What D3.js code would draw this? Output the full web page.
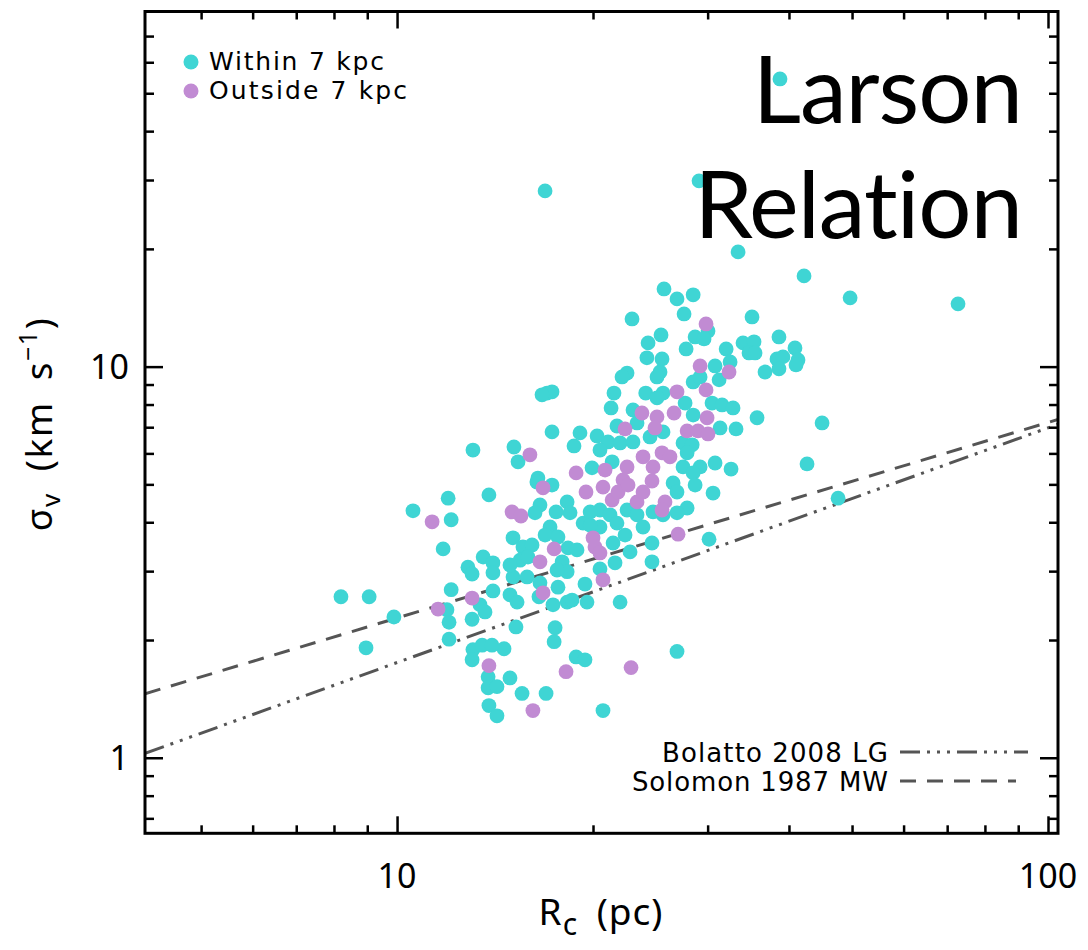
<!DOCTYPE html>
<html>
<head>
<meta charset="utf-8">
<script src="https://cdn.jsdelivr.net/npm/d3@7"></script>
<style>
  html, body { margin: 0; padding: 0; background: #ffffff; }
  svg { display: block; }
  .title text { font-variant-ligatures: none; font-feature-settings: "liga" 0, "clig" 0; }
</style>
</head>
<body>
<svg id="chart" width="1088" height="950"></svg>
<script>
// Clouds within 7 kpc: radius R_c (pc) and velocity dispersion sigma_v (km/s)
const withinR = [
  38.75, 16.88, 29.10, 33.41, 42.19, 72.74, 49.66, 25.71, 26.92, 28.50,
  27.60, 22.96, 35.10, 30.04, 25.44, 28.70, 29.62, 24.30, 27.80, 32.03,
  34.00, 35.35, 34.73, 35.48, 38.61, 40.86, 38.34, 39.16, 41.30, 41.01,
  38.61, 36.75, 25.53, 24.20, 30.80, 32.48, 25.35, 25.08, 31.24, 28.50,
  29.21, 25.62, 24.10, 25.08, 27.70, 30.47, 31.57, 32.82, 28.50, 35.73,
  44.97, 31.35, 33.17, 25.62, 24.47, 27.50, 28.40, 27.90, 30.80, 32.59,
  27.50, 29.21, 28.50, 42.64, 26.55, 28.70, 30.58, 26.92, 47.59, 27.90,
  26.92, 25.62, 24.73, 30.15, 24.64, 24.64, 26.92, 22.56, 22.16, 17.00,
  17.30, 16.70, 21.54, 21.32, 23.04, 17.30, 21.77, 23.37, 19.10, 20.29,
  18.70, 21.09, 22.01, 23.04, 20.50, 15.12, 15.34, 21.40, 19.93, 16.46,
  17.30, 16.40, 16.58, 16.29, 18.25, 18.44, 20.50, 21.24, 22.56, 23.37,
  23.87, 19.31, 20.50, 21.77, 17.18, 16.88, 17.67, 15.07, 15.61, 16.12,
  18.31, 18.90, 21.47, 22.80, 21.62, 20.50, 15.45, 15.89, 17.93, 18.25,
  17.61, 15.07, 15.84, 16.58, 17.67, 19.44, 14.91, 15.29, 16.52, 17.36,
  18.25, 18.57, 19.58, 22.01, 15.23, 17.49, 17.43, 14.60, 18.84, 19.44,
  14.91, 15.56, 16.94, 20.72, 13.08, 13.84, 11.98, 10.58, 12.11, 11.77,
  13.56, 12.85, 13.04, 14.04, 14.04, 12.11, 14.04, 11.93, 13.41, 13.65,
  12.02, 13.04, 8.20, 9.06, 9.89, 12.02, 8.96, 13.08, 13.51, 13.99,
  13.04, 13.80, 13.80, 14.24, 13.84, 14.24, 14.91, 17.55, 19.80, 19.80,
  22.40
];
const withinSigma = [
  54.4, 28.14, 29.85, 19.65, 17.06, 14.47, 14.99, 15.80, 14.90, 15.26,
  13.64, 13.24, 13.40, 12.34, 12.05, 11.91, 11.77, 11.50, 11.10, 11.10,
  11.50, 11.57, 10.84, 10.84, 11.91, 11.16, 10.46, 10.59, 10.40, 10.10,
  9.87, 9.69, 10.46, 10.53, 10.04, 10.28, 9.69, 9.41, 9.25, 9.14,
  9.41, 8.56, 8.56, 8.32, 8.07, 8.07, 7.98, 7.84, 7.52, 7.40,
  7.18, 6.97, 6.93, 6.81, 6.61, 6.38, 6.31, 6.02, 5.67, 5.47,
  5.54, 5.54, 5.35, 5.64, 5.04, 4.98, 4.75, 4.78, 4.61, 4.35,
  4.23, 4.18, 4.25, 3.62, 3.54, 3.17, 1.87, 9.63, 9.41, 8.56,
  8.62, 8.47, 8.56, 7.84, 7.75, 6.81, 7.05, 7.18, 6.77, 6.65,
  6.27, 6.42, 6.38, 6.42, 6.12, 6.23, 5.71, 5.71, 5.51, 5.19,
  4.98, 5.07, 4.43, 4.23, 4.51, 4.23, 4.30, 4.18, 4.30, 4.18,
  3.89, 3.98, 3.89, 3.98, 3.89, 3.71, 3.67, 3.65, 3.46, 3.50,
  3.44, 3.40, 3.54, 3.36, 3.15, 3.04, 3.20, 3.26, 3.17, 2.99,
  3.02, 2.90, 2.90, 2.80, 2.73, 2.78, 2.61, 2.50, 2.58, 2.46,
  2.50, 2.53, 2.50, 2.50, 2.16, 2.15, 1.98, 1.90, 1.81, 1.78,
  1.60, 1.46, 1.46, 1.32, 6.12, 4.70, 4.61, 4.28, 4.06, 3.42,
  3.26, 3.07, 2.95, 3.15, 2.97, 2.69, 2.67, 2.39, 2.46, 2.36,
  2.22, 2.26, 2.58, 2.58, 2.29, 2.01, 1.91, 1.89, 1.94, 1.94,
  1.78, 1.61, 1.51, 1.52, 1.36, 1.28, 3.11, 4.25, 4.25, 3.93,
  3.71
];

// Clouds outside 7 kpc
const outsideR = [
  29.83, 29.21, 32.36, 29.83, 26.92, 26.64, 25.08, 29.94, 27.90, 29.00,
  30.04, 24.90, 25.53, 26.26, 24.73, 24.64, 25.80, 25.53, 27.02, 23.78,
  22.40, 16.00, 23.87, 22.56, 20.87, 18.84, 22.24, 16.76, 19.51, 15.02,
  15.50, 20.72, 21.40, 21.85, 22.64, 23.37, 23.87, 17.43, 20.00, 20.14,
  20.50, 16.58, 20.72, 16.76, 18.18, 22.88, 16.17, 11.32, 13.04, 11.56,
  13.84
];
const outsideSigma = [
  12.86, 10.04, 9.69, 8.72, 8.62, 7.61, 7.44, 7.40, 6.85, 6.85,
  6.73, 6.97, 6.02, 5.88, 5.54, 5.10, 4.51, 4.30, 3.73, 7.61,
  6.93, 5.95, 5.88, 5.54, 5.44, 5.35, 5.13, 4.90, 4.78, 4.25,
  4.15, 4.92, 4.56, 4.78, 4.98, 4.51, 4.78, 3.42, 3.65, 3.46,
  3.34, 3.17, 2.85, 2.64, 1.66, 1.70, 1.32, 4.01, 2.56, 2.40,
  1.72
];

// Size-linewidth relations: sigma = coefficient * R^exponent
const relationNames = ["Bolatto 2008 LG", "Solomon 1987 MW"];
const relationCoef = [0.44, 0.72];
const relationExp = [0.60, 0.50];

// Axis ticks
const xMajor = [10, 100];
const xMinor = [5, 6, 7, 8, 9, 20, 30, 40, 50, 60, 70, 80, 90];
const yMajor = [1, 10];
const yMinor = [0.7, 0.8, 0.9, 2, 3, 4, 5, 6, 7, 8, 9, 20, 30, 40, 50, 60, 70];
const xTickLabels = ["10", "100"];
const yTickLabels = ["1", "10"];

const legendNames = ["Within 7 kpc", "Outside 7 kpc"];
const COL_IN = "#3fd5d4";
const COL_OUT = "#c18bd3";
const LINE_COL = "#555555";

const svg = d3.select("#chart");
const L = 145, R = 1058, T = 11.5, B = 833.3;

const x = d3.scaleLog().domain([4.1, 103.6]).range([L, R]);
const y = d3.scaleLog().domain([0.641, 80.9]).range([B, T]);

// Clip for the data region
svg.append("clipPath").attr("id", "plotclip")
  .append("rect").attr("x", L).attr("y", T).attr("width", R - L).attr("height", B - T);

const plot = svg.append("g").attr("clip-path", "url(#plotclip)");

// Relation lines (straight in log-log space, drawn between the domain ends)
const dashes = ["20,7,3,7,3,7,3,7", "16,11"];
const ends = x.domain();
relationCoef.forEach((c, i) => {
  const pts = ends.map(r => [x(r), y(c * Math.pow(r, relationExp[i]))]);
  plot.append("path")
    .attr("d", d3.line()(pts))
    .attr("fill", "none")
    .attr("stroke", LINE_COL)
    .attr("stroke-width", 3)
    .attr("stroke-dasharray", dashes[i]);
});

// Big title
const title = svg.append("g").attr("class", "title")
  .attr("font-family", "Lato, 'Open Sans', sans-serif")
  .attr("font-size", 94)
  .attr("fill", "#000")
  .attr("text-anchor", "end");
title.append("text").attr("x", 1022).attr("y", 123).attr("letter-spacing", -1).text("Larson");
title.append("text").attr("x", 1022).attr("y", 238).attr("letter-spacing", -1).text("Relation");

// Data points
const inside = d3.zip(withinR, withinSigma);
const outside = d3.zip(outsideR, outsideSigma);
plot.append("g").selectAll("circle").data(inside).join("circle")
  .attr("cx", d => x(d[0])).attr("cy", d => y(d[1])).attr("r", 7.4)
  .attr("fill", COL_IN);
plot.append("g").selectAll("circle").data(outside).join("circle")
  .attr("cx", d => x(d[0])).attr("cy", d => y(d[1])).attr("r", 7.4)
  .attr("fill", COL_OUT);

// Axes: ticks pointing inward on all four sides
function styleAxis(g) {
  g.select(".domain").remove();
  g.selectAll(".tick line").attr("stroke", "#000").attr("stroke-width", 2.5);
  g.selectAll(".tick text").remove();
}
svg.append("g").attr("transform", `translate(0,${B})`)
  .call(d3.axisBottom(x).tickValues(xMajor).tickSize(-17)).call(styleAxis);
svg.append("g").attr("transform", `translate(0,${B})`)
  .call(d3.axisBottom(x).tickValues(xMinor).tickSize(-8)).call(styleAxis);
svg.append("g").attr("transform", `translate(0,${T})`)
  .call(d3.axisTop(x).tickValues(xMajor).tickSize(-17)).call(styleAxis);
svg.append("g").attr("transform", `translate(0,${T})`)
  .call(d3.axisTop(x).tickValues(xMinor).tickSize(-8)).call(styleAxis);
svg.append("g").attr("transform", `translate(${L},0)`)
  .call(d3.axisLeft(y).tickValues(yMajor).tickSize(-18)).call(styleAxis);
svg.append("g").attr("transform", `translate(${L},0)`)
  .call(d3.axisLeft(y).tickValues(yMinor).tickSize(-9)).call(styleAxis);
svg.append("g").attr("transform", `translate(${R},0)`)
  .call(d3.axisRight(y).tickValues(yMajor).tickSize(-18)).call(styleAxis);
svg.append("g").attr("transform", `translate(${R},0)`)
  .call(d3.axisRight(y).tickValues(yMinor).tickSize(-9)).call(styleAxis);

// Frame
svg.append("rect").attr("x", L).attr("y", T).attr("width", R - L).attr("height", B - T)
  .attr("fill", "none").attr("stroke", "#000").attr("stroke-width", 3);

// Tick labels
const tickFont = "'Noto Sans', 'DejaVu Sans', sans-serif";
svg.append("g").selectAll("text").data(xMajor).join("text")
  .attr("x", d => x(d)).attr("y", 888)
  .attr("text-anchor", "middle").attr("font-family", tickFont).attr("font-size", 34)
  .text((d, i) => xTickLabels[i]);
svg.append("g").selectAll("text").data(yMajor).join("text")
  .attr("x", 129).attr("y", d => y(d) + 12)
  .attr("text-anchor", "end").attr("font-family", tickFont).attr("font-size", 34)
  .text((d, i) => yTickLabels[i]);

// Axis titles
const xt = svg.append("text").attr("x", 601).attr("y", 925)
  .attr("text-anchor", "middle").attr("font-family", tickFont).attr("font-size", 37)
  .attr("letter-spacing", 1).attr("word-spacing", 8);
xt.append("tspan").text("R");
xt.append("tspan").attr("dy", 10).attr("font-size", 30).text("c");
xt.append("tspan").attr("dy", -10).text(" (pc)");

const yt = svg.append("text").attr("transform", "translate(52,424) rotate(-90)")
  .attr("text-anchor", "middle").attr("font-family", tickFont).attr("font-size", 37)
  .attr("letter-spacing", 1.5).attr("word-spacing", 10);
yt.append("tspan").text("σ");
yt.append("tspan").attr("dy", 8).attr("font-size", 26).text("v");
yt.append("tspan").attr("dy", -8).text(" (km s");
yt.append("tspan").attr("dy", -15).attr("font-size", 25).text("−1");
yt.append("tspan").attr("dy", 15).text(")");

// Point legend (top left)
const legFont = "'DejaVu Sans', sans-serif";
const legCols = [COL_IN, COL_OUT];
const legWidths = [175, 198];
legendNames.forEach((name, i) => {
  const yy = 62 + i * 29;
  svg.append("circle").attr("cx", 191).attr("cy", yy).attr("r", 7.5).attr("fill", legCols[i]);
  svg.append("text").attr("x", 209).attr("y", yy + 8)
    .attr("font-family", legFont).attr("font-size", 25)
    .attr("textLength", legWidths[i]).attr("lengthAdjust", "spacing")
    .text(name);
});

// Line legend (bottom right)
const lineLegWidths = [226, 256];
const lineLegLen = [128, 116];
relationNames.forEach((name, i) => {
  const yy = 752 + i * 29;
  svg.append("text").attr("x", 888).attr("y", yy + 10)
    .attr("text-anchor", "end")
    .attr("font-family", legFont).attr("font-size", 26)
    .attr("textLength", lineLegWidths[i]).attr("lengthAdjust", "spacing")
    .text(name);
  svg.append("line").attr("x1", 900).attr("x2", 900 + lineLegLen[i])
    .attr("y1", yy).attr("y2", yy)
    .attr("stroke", LINE_COL).attr("stroke-width", 3)
    .attr("stroke-dasharray", dashes[i]);
});
</script>
</body>
</html>
